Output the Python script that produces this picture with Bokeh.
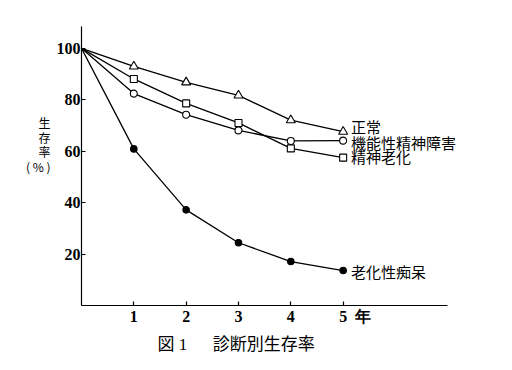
from bokeh.plotting import figure
from bokeh.models import Label, FixedTicker, Range1d, Title
from bokeh.embed import file_html
from bokeh.resources import INLINE

# ---- data ----
years = [0, 1, 2, 3, 4, 5]
normal = [100, 93.0, 86.8, 81.7, 72.1, 67.6]          # 正常 (triangle)
functional = [100, 82.4, 74.2, 68.1, 64.0, 64.1]      # 機能性精神障害 (open circle)
mental_aging = [100, 88.1, 78.6, 71.0, 61.1, 57.5]    # 精神老化 (square)
dementia = [100, 60.9, 37.2, 24.4, 17.1, 13.6]        # 老化性痴呆 (filled circle)
series_names = ["正常", "機能性精神障害", "精神老化", "老化性痴呆"]
x_ticks = [1, 2, 3, 4, 5]
y_ticks = [20, 40, 60, 80, 100]
x_unit = "年"
y_title = "生\n存\n率\n( % )"
caption = "図 1\u3000\u2002診断別生存率"

CJK = "Noto Sans CJK JP"
SERIF = "Liberation Serif"

p = figure(width=504, height=362, x_range=Range1d(0, 7.3), y_range=Range1d(0, 108.5),
           output_backend="svg", toolbar_location=None,
           min_border_left=81, min_border_right=41, min_border_top=26, min_border_bottom=57)
p.outline_line_color = None
p.xgrid.visible = False
p.ygrid.visible = False
p.background_fill_color = "white"
p.border_fill_color = "white"

for ax in (p.xaxis, p.yaxis):
    ax.axis_line_color = "black"
    ax.axis_line_width = 1.2
    ax.major_tick_in = 4
    ax.major_tick_out = 0
    ax.minor_tick_line_color = None
    ax.major_tick_line_color = "black"
    ax.major_tick_line_width = 1.2
    ax.major_label_text_font = SERIF
    ax.major_label_text_font_size = "16px"
    ax.major_label_text_font_style = "bold"
    ax.major_label_text_color = "black"
p.xaxis.ticker = FixedTicker(ticks=x_ticks)
p.yaxis.ticker = FixedTicker(ticks=y_ticks)
p.xaxis.bounds = (0, 7)
p.xaxis.major_label_standoff = 2
p.yaxis.major_label_standoff = 1
# year unit next to the last tick label (padding keeps "5" centred on its tick)
p.xaxis.major_label_overrides = {x_ticks[-1]: "\u2003\u2002" + str(x_ticks[-1]) + "\u2002" + x_unit}

# y title, stacked vertically
p.yaxis.axis_label = y_title + "\n\u00a0\n\u00a0\n\u00a0"
p.yaxis.axis_label_orientation = "horizontal"
p.yaxis.axis_label_text_font = CJK
p.yaxis.axis_label_text_font_size = "12px"
p.yaxis.axis_label_text_line_height = 0.85
p.yaxis.axis_label_text_font_style = "normal"
p.yaxis.axis_label_text_align = "center"
p.yaxis.axis_label_standoff = 3
p.yaxis.axis_label_text_color = "black"

LW = 1.3
for ys, marker, size, fill in [
    (normal, "triangle", 9, "white"),
    (mental_aging, "square", 7, "white"),
    (functional, "circle", 7, "white"),
    (dementia, "circle", 6.5, "black"),
]:
    p.line(years, ys, line_color="black", line_width=LW)
    p.scatter(years[1:], ys[1:], marker=marker, size=size, line_color="black",
              line_width=1.1, fill_color=fill)

# series labels at the end of each line
label_dy = [2.2, -0.7, 0.3, -0.2]
for name, ys, dy in zip(series_names, [normal, functional, mental_aging, dementia], label_dy):
    p.add_layout(Label(x=years[-1] + 0.15, y=ys[-1] + dy, text=name, text_font=CJK,
                       text_font_size="15px", text_baseline="middle", text_align="left",
                       text_color="black"))

# caption below the chart
t1 = Title(text=caption, align="left", offset=76, text_font=SERIF + ", " + CJK,
           text_font_size="17px", text_font_style="normal", text_color="black", standoff=10)
p.add_layout(t1, "below")

open("out.html", "w").write(file_html(p, INLINE))
